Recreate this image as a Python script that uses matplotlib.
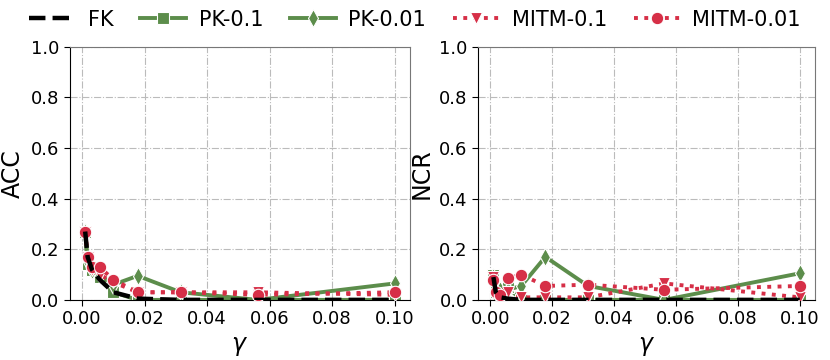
import numpy as np
import matplotlib.pyplot as plt

gamma = [0.001, 0.00178, 0.00316, 0.00562, 0.01, 0.0178, 0.0316, 0.0562, 0.1]

# ACC
acc_fk = [0.27, 0.17, 0.12, 0.08, 0.03, 0.005, 0.0, 0.0, 0.0]
acc_pk_01 = [0.27, 0.14, 0.12, 0.09, 0.03, 0.0, 0.0, 0.0, 0.0]
acc_pk_001 = [0.27, 0.15, 0.12, 0.10, 0.06, 0.095, 0.03, 0.0, 0.065]
acc_mitm_01 = [0.27, 0.17, 0.12, 0.10, 0.07, 0.03, 0.03, 0.03, 0.02]
acc_mitm_001 = [0.27, 0.17, 0.13, 0.13, 0.08, 0.03, 0.03, 0.02, 0.03]

# NCR
ncr_fk = [0.09, 0.03, 0.01, 0.005, 0.0, 0.0, 0.0, 0.0, 0.0]
ncr_pk_01 = [0.10, 0.03, 0.02, 0.05, 0.0, 0.0, 0.0, 0.0, 0.0]
ncr_pk_001 = [0.09, 0.02, 0.04, 0.04, 0.055, 0.17, 0.055, 0.0, 0.105]
ncr_mitm_01 = [0.09, 0.02, 0.01, 0.03, 0.01, 0.01, 0.01, 0.065, 0.01]
ncr_mitm_001 = [0.08, 0.03, 0.02, 0.085, 0.10, 0.055, 0.06, 0.04, 0.055]

labels = ["FK", "PK-0.1", "PK-0.01", "MITM-0.1", "MITM-0.01"]
green = '#5c8d4b'
red = '#d62f47'
styles = [
    dict(color='black', linestyle='--', marker=None, lw=3.2, z=5),
    dict(color=green, linestyle='-', marker='s', lw=2.8, z=2),
    dict(color=green, linestyle='-', marker='d', lw=2.8, z=2),
    dict(color=red, linestyle=':', marker='v', lw=2.8, z=3),
    dict(color=red, linestyle=':', marker='o', lw=2.8, z=3),
]

fig = plt.figure(figsize=(8.3, 3.6), dpi=100)
ax1 = fig.add_axes([0.084, 0.167, 0.410, 0.703])
ax2 = fig.add_axes([0.576, 0.167, 0.406, 0.703])

panels = [
    (ax1, "ACC", [acc_fk, acc_pk_01, acc_pk_001, acc_mitm_01, acc_mitm_001]),
    (ax2, "NCR", [ncr_fk, ncr_pk_01, ncr_pk_001, ncr_mitm_01, ncr_mitm_001]),
]

for ax, ylab, series in panels:
    for vals, st, lab in zip(series, styles, labels):
        ax.plot(gamma, vals, label=lab, color=st['color'], linestyle=st['linestyle'],
                linewidth=st['lw'], marker=st['marker'], markersize=9,
                markeredgecolor='white', markeredgewidth=0.8, zorder=st['z'])
    ax.set_ylim(0, 1.0)
    ax.set_yticks([0.0, 0.2, 0.4, 0.6, 0.8, 1.0])
    ax.set_xticks([0.0, 0.02, 0.04, 0.06, 0.08, 0.10])
    ax.set_xticklabels(["0.00", "0.02", "0.04", "0.06", "0.08", "0.10"])
    ax.tick_params(labelsize=13, length=4)
    ax.set_xlabel(r"$\gamma$", fontsize=17)
    ax.set_ylabel(ylab, fontsize=17)
    ax.grid(color='#bbbbbb', linestyle='-.', linewidth=0.8)
    ax.set_axisbelow(True)
    ax.spines['left'].set_color('black')
    ax.spines['bottom'].set_color('black')
    ax.spines['top'].set_color('#777777')
    ax.spines['right'].set_color('#777777')

handles, lbls = ax1.get_legend_handles_labels()
fig.legend(handles, lbls, loc='upper center', bbox_to_anchor=(0.5, 1.025), ncol=5,
           frameon=False, fontsize=15, handlelength=2.2, columnspacing=1.3,
           handletextpad=0.6)

plt.savefig("out.png", dpi=100)
